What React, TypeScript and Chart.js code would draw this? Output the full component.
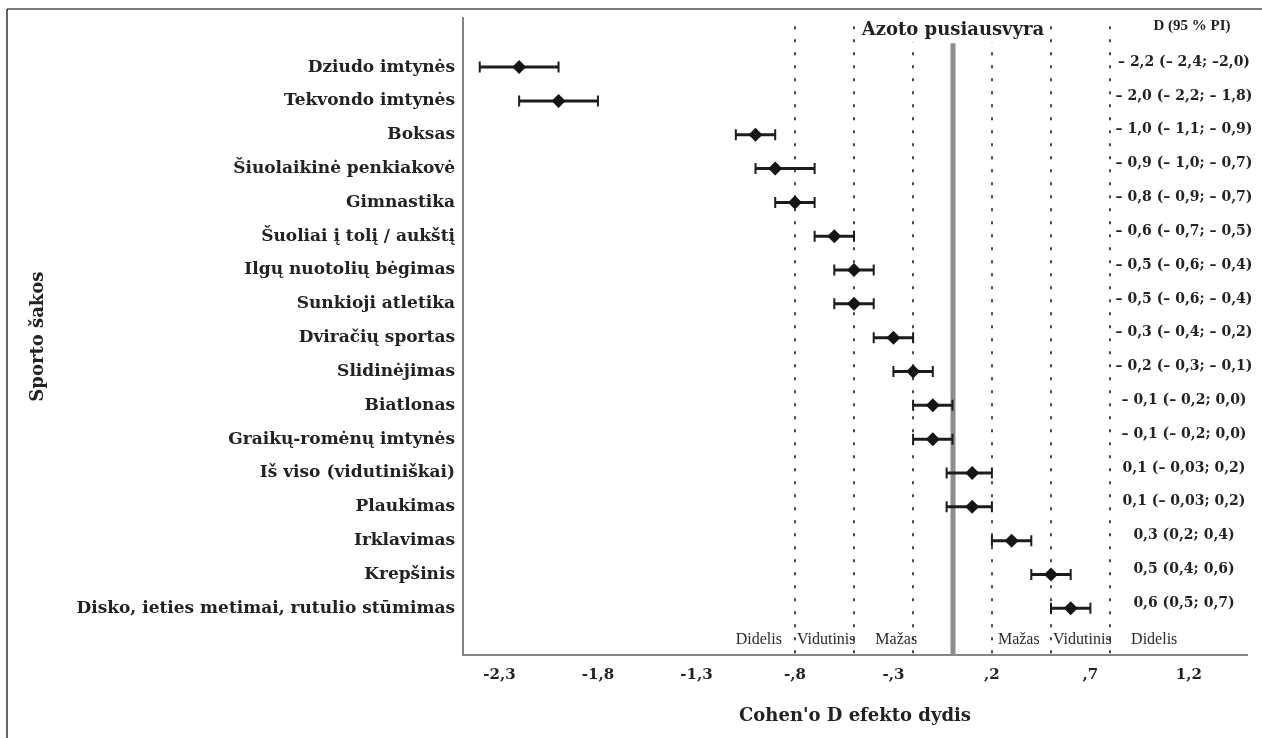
import React, { useEffect, useRef } from 'react';
import { Chart, registerables } from 'chart.js';

Chart.register(...registerables);

const sports = [
  'Dziudo imtynės',
  'Tekvondo imtynės',
  'Boksas',
  'Šiuolaikinė penkiakovė',
  'Gimnastika',
  'Šuoliai į tolį / aukštį',
  'Ilgų nuotolių bėgimas',
  'Sunkioji atletika',
  'Dviračių sportas',
  'Slidinėjimas',
  'Biatlonas',
  'Graikų-romėnų imtynės',
  'Iš viso (vidutiniškai)',
  'Plaukimas',
  'Irklavimas',
  'Krepšinis',
  'Disko, ieties metimai, rutulio stūmimas',
];

const effect = [-2.2, -2.0, -1.0, -0.9, -0.8, -0.6, -0.5, -0.5, -0.3, -0.2, -0.1, -0.1, 0.1, 0.1, 0.3, 0.5, 0.6];
const ciLower = [-2.4, -2.2, -1.1, -1.0, -0.9, -0.7, -0.6, -0.6, -0.4, -0.3, -0.2, -0.2, -0.03, -0.03, 0.2, 0.4, 0.5];
const ciUpper = [-2.0, -1.8, -0.9, -0.7, -0.7, -0.5, -0.4, -0.4, -0.2, -0.1, 0.0, 0.0, 0.2, 0.2, 0.4, 0.6, 0.7];

const ciText = [
  '– 2,2 (– 2,4; –2,0)',
  '– 2,0 (– 2,2; – 1,8)',
  '– 1,0 (– 1,1; – 0,9)',
  '– 0,9 (– 1,0; – 0,7)',
  '– 0,8 (– 0,9; – 0,7)',
  '– 0,6 (– 0,7; – 0,5)',
  '– 0,5 (– 0,6; – 0,4)',
  '– 0,5 (– 0,6; – 0,4)',
  '– 0,3 (– 0,4; – 0,2)',
  '– 0,2 (– 0,3; – 0,1)',
  '– 0,1 (– 0,2; 0,0)',
  '– 0,1 (– 0,2; 0,0)',
  '0,1 (– 0,03; 0,2)',
  '0,1 (– 0,03; 0,2)',
  '0,3 (0,2; 0,4)',
  '0,5 (0,4; 0,6)',
  '0,6 (0,5; 0,7)',
];

const xTickValues = [-2.3, -1.8, -1.3, -0.8, -0.3, 0.2, 0.7, 1.2];
const xTickLabels = ['-2,3', '-1,8', '-1,3', '-,8', '-,3', ',2', ',7', '1,2'];

const thresholds = [-0.8, -0.5, -0.2, 0.2, 0.5, 0.8];
const magnitudeLabels = ['Didelis', 'Vidutinis', 'Mažas', 'Mažas', 'Vidutinis', 'Didelis'];

const ciHeader = 'D (95 % PI)';
const refLabel = 'Azoto pusiausvyra';
const xTitle = "Cohen'o D efekto dydis";
const yTitle = 'Sporto šakos';

const SERIF = '"DejaVu Serif", serif';
const TIMES = '"Liberation Serif", serif';

// placement of the magnitude words relative to threshold lines
const magAnchors = [
  { t: -0.8, dx: -13, align: 'right' },
  { t: -0.8, dx: 2, align: 'left' },
  { t: -0.2, dx: 4, align: 'right' },
  { t: 0.2, dx: 6, align: 'left' },
  { t: 0.5, dx: 2, align: 'left' },
  { t: 0.8, dx: 21, align: 'left' },
];

const forestPlugin = {
  id: 'forest',
  beforeDatasetsDraw(chart: any) {
    const { ctx, chartArea } = chart;
    const x = chart.scales.x;
    const y = chart.scales.y;
    ctx.save();
    // dotted threshold lines
    ctx.strokeStyle = '#4a4a4a';
    ctx.lineWidth = 2;
    ctx.setLineDash([3, 10]);
    thresholds.forEach((t) => {
      const px = Math.round(x.getPixelForValue(t));
      ctx.beginPath();
      ctx.moveTo(px, chartArea.top + 8);
      ctx.lineTo(px, chartArea.bottom);
      ctx.stroke();
    });
    ctx.setLineDash([]);
    // zero (nitrogen balance) line
    const x0 = Math.round(x.getPixelForValue(0));
    ctx.strokeStyle = '#8c8c8c';
    ctx.lineWidth = 5;
    ctx.beginPath();
    ctx.moveTo(x0, chartArea.top + 25);
    ctx.lineTo(x0, chartArea.bottom);
    ctx.stroke();
    // label
    ctx.font = `bold 18px ${SERIF}`;
    const w = ctx.measureText(refLabel).width;
    ctx.fillStyle = '#ffffff';
    ctx.fillRect(x0 - w / 2 - 2, chartArea.top, w + 4, 24);
    ctx.fillStyle = '#222222';
    ctx.textAlign = 'center';
    ctx.textBaseline = 'middle';
    ctx.fillText(refLabel, x0, chartArea.top + 12);
    // error bars
    ctx.strokeStyle = '#1c1c1c';
    for (let i = 0; i < effect.length; i++) {
      const yl = y.getPixelForValue(i);
      const xl = x.getPixelForValue(ciLower[i]);
      const xr = x.getPixelForValue(ciUpper[i]);
      ctx.lineWidth = 3;
      ctx.beginPath();
      ctx.moveTo(xl, yl);
      ctx.lineTo(xr, yl);
      ctx.stroke();
      ctx.lineWidth = 2;
      ctx.beginPath();
      ctx.moveTo(xl, yl - 5.5);
      ctx.lineTo(xl, yl + 5.5);
      ctx.moveTo(xr, yl - 5.5);
      ctx.lineTo(xr, yl + 5.5);
      ctx.stroke();
    }
    ctx.restore();
  },
  afterDraw(chart: any) {
    const { ctx, chartArea } = chart;
    const x = chart.scales.x;
    const y = chart.scales.y;
    ctx.save();
    // CI text column
    ctx.fillStyle = '#222222';
    ctx.textAlign = 'center';
    ctx.textBaseline = 'middle';
    ctx.font = `bold 14px ${SERIF}`;
    ciText.forEach((s, i) => {
      ctx.fillText(s, 1184, y.getPixelForValue(i) - 5);
    });
    ctx.font = `bold 15px ${TIMES}`;
    ctx.fillText(ciHeader, 1192, chartArea.top + 8);
    // magnitude words
    ctx.font = `16px ${TIMES}`;
    ctx.fillStyle = '#2a2a2a';
    magnitudeLabels.forEach((s, i) => {
      const a = magAnchors[i];
      ctx.textAlign = a.align;
      ctx.fillText(s, x.getPixelForValue(a.t) + a.dx, chartArea.bottom - 15);
    });
    // outer frame
    ctx.strokeStyle = '#7a7a7a';
    ctx.lineWidth = 2;
    ctx.beginPath();
    ctx.moveTo(7, 9);
    ctx.lineTo(chart.width, 9);
    ctx.stroke();
    ctx.strokeStyle = '#333333';
    ctx.lineWidth = 1.5;
    ctx.beginPath();
    ctx.moveTo(7, 9);
    ctx.lineTo(7, chart.height);
    ctx.stroke();
    ctx.restore();
  },
};

export default function App() {
  const ref = useRef<HTMLCanvasElement>(null);
  useEffect(() => {
    if (!ref.current) return;
    const chart = new Chart(ref.current, {
      type: 'scatter',
      data: {
        datasets: [
          {
            label: 'D',
            data: effect.map((v, i) => ({ x: v, y: i })),
            pointStyle: 'rectRot',
            pointRadius: 7,
            pointHoverRadius: 7,
            backgroundColor: '#151515',
            borderColor: '#151515',
            borderWidth: 0,
            showLine: false,
          },
        ],
      },
      options: {
        responsive: false,
        animation: false,
        events: [],
        layout: { padding: { top: 17, right: 15, left: 0, bottom: 0 } },
        plugins: { legend: { display: false }, tooltip: { enabled: false } },
        scales: {
          x: {
            type: 'linear',
            min: -2.485,
            max: 1.495,
            grid: { display: false, drawTicks: false },
            border: { display: true, color: '#858585', width: 2 },
            afterBuildTicks: (s: any) => {
              s.ticks = xTickValues.map((v) => ({ value: v }));
            },
            afterFit: (s: any) => {
              s.height = 83;
            },
            ticks: {
              autoSkip: false,
              maxRotation: 0,
              padding: 11,
              color: '#222222',
              font: { family: SERIF, size: 15, weight: 'bold' },
              callback: (_v: any, i: number) => xTickLabels[i],
            },
            title: {
              display: true,
              text: xTitle,
              color: '#222222',
              font: { family: SERIF, size: 18, weight: 'bold' },
              padding: { top: 0, bottom: 11 },
            },
          },
          y: {
            type: 'linear',
            reverse: true,
            min: -1.445,
            max: 17.38,
            grid: { display: false, drawTicks: false },
            border: { display: true, color: '#858585', width: 2 },
            afterBuildTicks: (s: any) => {
              s.ticks = sports.map((_, i) => ({ value: i }));
            },
            afterFit: (s: any) => {
              s.width = 463;
            },
            ticks: {
              autoSkip: false,
              padding: 8,
              color: '#222222',
              font: { family: SERIF, size: 17, weight: 'bold' },
              callback: (v: any) => sports[v],
            },
            title: {
              display: true,
              text: yTitle,
              color: '#222222',
              font: { family: SERIF, size: 18, weight: 'bold' },
              padding: { top: 28, bottom: 0 },
            },
          },
        },
      },
      plugins: [forestPlugin],
    } as any);
    return () => chart.destroy();
  }, []);
  return (
    <div style={{ position: 'fixed', left: 0, top: 0, width: 1262, height: 738, background: '#ffffff' }}>
      <canvas ref={ref} width={1262} height={738} style={{ width: 1262, height: 738, display: 'block' }} />
    </div>
  );
}
